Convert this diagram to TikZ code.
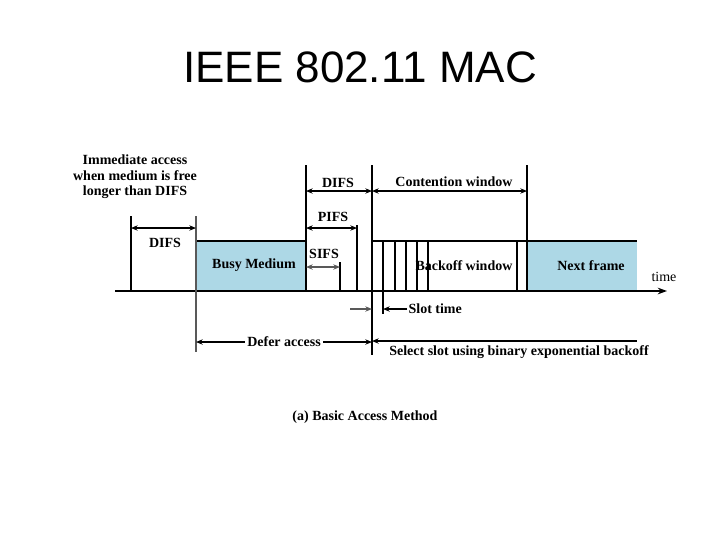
\documentclass[tikz,border=0pt]{standalone}
\usepackage{fontspec}
\setmainfont{Liberation Serif}
\newfontfamily\titlefont{Liberation Sans}
\usetikzlibrary{arrows.meta}
\definecolor{macblue}{RGB}{173,216,230}

\begin{document}
\begin{tikzpicture}[x=0.75pt,y=-0.75pt,
  macaxis/.style = {line width=2pt},
  macbar/.style = {line width=1.5pt},
  macthin/.style = {line width=0.8pt},
  macdim/.style = {{Stealth[length=5pt,width=4pt]}-{Stealth[length=5pt,width=4pt]}, line width=0.8pt},
  maclbl/.style = {font=\bfseries\fontsize{10.5}{12}\selectfont, inner sep=1pt},
  macframe/.style = {fill=macblue}
]
  \useasboundingbox (0,0) rectangle (720,540);
  % title
  \node[font=\titlefont\fontsize{33}{36}\selectfont] (title) at (360,67) {IEEE 802.11 MAC};
  % frames
  \fill[macframe] (196,241) rectangle (306,291);
  \fill[macframe] (527,241) rectangle (637,291);
  \draw[macbar] (196,241) -- (306,241);
  \draw[macbar] (372,241) -- (637,241);
  % time axis
  \draw[macaxis, -{Stealth[length=7pt,width=5pt]}] (115,291) -- (667,291);
  \node[font=\fontsize{10.5}{12}\selectfont] (time) at (664,277) {time};
  % boundaries
  \coordinate (difsa) at (131,216);
  \coordinate (busyl) at (196,216);
  \coordinate (busyr) at (306,165);
  \coordinate (cwl) at (372,165);
  \coordinate (cwr) at (527,165);
  \draw[macthin] (difsa) -- (131,291);
  \draw[macthin, gray!70!black] (busyl) -- (196,352);
  \draw[macbar] (busyr) -- (306,291);
  \draw[macbar] (cwl) -- (372,355);
  \draw[macbar] (cwr) -- (527,291);
  \draw[macthin] (357,225) -- (357,291);
  \draw[macthin] (340,262) -- (340,291);
  % slots
  \foreach \sx in {395,406,428}
    \draw[macthin] (\sx,241) -- (\sx,291);
  \foreach \sx in {417,517}
    \draw[macbar] (\sx,241) -- (\sx,291);
  \draw[macbar] (383,241) -- (383,314);
  % interframe spaces
  \draw[macdim] (131,228) -- (196,228);
  \node[maclbl] (difs1) at (165,243) {DIFS};
  \draw[macdim] (306,191) -- (372,191);
  \node[maclbl] (difs2) at (338,183) {DIFS};
  \draw[macdim] (372,191) -- (527,191);
  \node[maclbl] (cw) at (454,182) {Contention window};
  \draw[macdim] (306,228) -- (357,228);
  \node[maclbl] (pifs) at (333,217) {PIFS};
  \draw[macdim, line width=1.1pt, gray!70!black] (306,267) -- (340,267);
  \node[maclbl] (sifs) at (324,254) {SIFS};
  % labels
  \node[maclbl] (busy) at (254,265) {Busy Medium};
  \node[maclbl] (backoff) at (464,266) {Backoff window};
  \node[maclbl] (next) at (591,266) {Next frame};
  \node[maclbl, align=center, font=\bfseries\fontsize{10.5}{11.5}\selectfont] (immed) at (135,177)
    {Immediate access\\when medium is free\\longer than DIFS};
  % slot time
  \coordinate (slotin) at (350,309);
  \coordinate (slotout) at (383,309);
  \draw[-{Stealth[length=5pt,width=4pt]}, line width=1.1pt, gray!70!black] (slotin) -- (372,309);
  \node[maclbl, anchor=west] (slot) at (407,309) {Slot time};
  \draw[-{Stealth[length=5pt,width=4pt]}, line width=0.9pt] (slot.west) -- (slotout);
  % defer and select
  \draw[macdim, line width=1pt] (196,342) -- (372,342)
    node[midway, maclbl, fill=white, inner sep=2pt] (defer) {Defer access};
  \draw[{Stealth[length=5pt,width=4pt]}-, line width=1pt] (372,341) -- (637,341);
  \node[maclbl] (select) at (519,352) {Select slot using binary exponential backoff};
  % caption
  \node[maclbl] (caption) at (365,417) {(a) Basic Access Method};
\end{tikzpicture}
\end{document}
